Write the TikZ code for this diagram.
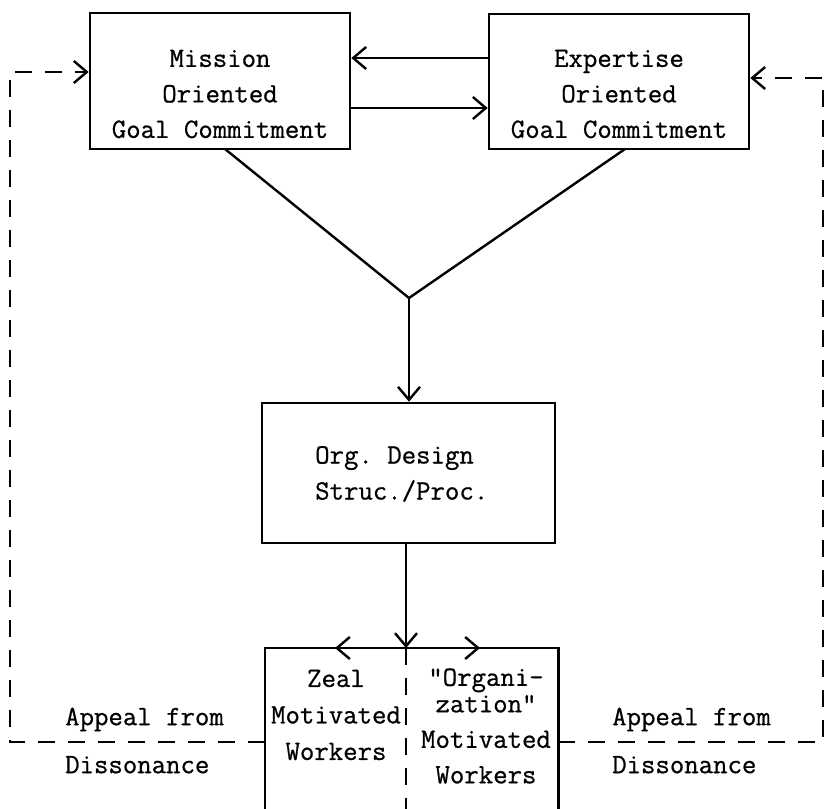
\documentclass[tikz,border=0pt]{standalone}
\usepackage{fontspec}
\setmonofont{Latin Modern Mono}[FakeBold=0.7]
\usetikzlibrary{arrows.meta}
\begin{document}
\begin{tikzpicture}[x=1pt,y=-1pt,
  box/.style={draw,line width=2.6pt,inner sep=0pt},
  txt/.style={font=\fontsize{28}{35.5}\selectfont\ttfamily,inner sep=0pt,align=center},
  conn/.style={line width=2.4pt},
  tip/.style={-{Straight Barb[length=13pt,width=22pt,line width=2.4pt]}},
  arr/.style={conn,tip},
  dsh/.style={line width=2.6pt,dash pattern=on 17pt off 13pt},
]
\useasboundingbox (0,0) rectangle (826,808);
\fill[white] (0,0) rectangle (826,808);

% boxes
\node[box,minimum width=260pt,minimum height=136pt] (mission) at (220,81) {};
\node[txt] (missiontxt) at (220,94) {Mission\\Oriented\\Goal Commitment};
\node[box,minimum width=260pt,minimum height=135pt] (expertise) at (619,81.5) {};
\node[txt] (expertisetxt) at (619,94) {Expertise\\Oriented\\Goal Commitment};

\node[box,minimum width=293pt,minimum height=140pt] (org) at (408.5,473) {};
\node[txt,align=left,anchor=west,font=\fontsize{28}{36}\selectfont\ttfamily] (orgtxt) at (315,474) {Org. Design\\Struc./Proc.};

\node[minimum width=293pt,minimum height=164pt,inner sep=0pt] (workers) at (411.5,730) {};
\draw[line width=2.6pt] (workers.south west) -- (workers.north west) -- (workers.north east) -- (workers.south east);
\coordinate (wmid) at (406,648);
\coordinate (wmidb) at (406,812);
\draw[dsh] (wmid) -- (wmidb);

\node[txt,font=\fontsize{28}{36.5}\selectfont\ttfamily] (zealtxt) at (336,715) {Zeal\\Motivated\\Workers};
\node[txt] (orgwtxt) at (486,726) {"Organi-\\[-9pt]zation"\\Motivated\\Workers};

\node[txt,align=left,anchor=west] (appl) at (65,740.5) {Appeal from\\[12.5pt]Dissonance};
\node[txt,align=left,anchor=west] (appr) at (612,740.5) {Appeal from\\[12.5pt]Dissonance};

% connectors between top boxes
\coordinate (t1) at (0,58);
\coordinate (t2) at (0,108);
\draw[arr] (expertise.west |- t1) -- (mission.east |- t1);
\draw[arr] (mission.east |- t2) -- (expertise.west |- t2);

% Y junction
\coordinate (mfoot) at (225,149);
\coordinate (efoot) at (625,149);
\coordinate (join) at (409,298);
\draw[conn] (mfoot) -- (join) -- (efoot);
\draw[arr] (join) -- (join |- org.north);

% org to workers
\draw[arr] (org.south -| wmid) -- (wmid);
\coordinate (lt) at (335,648);
\coordinate (rt) at (480,648);
\draw[arr] (wmid) -- (lt);
\draw[arr] (wmid) -- (rt);

% feedback loops
\coordinate (lb) at (10,742);
\coordinate (lt2) at (10,72);
\coordinate (rb) at (823,742);
\coordinate (rt2) at (823,78);
\draw[dsh,tip] (workers.west |- lb) -- (lb) -- (lt2) -- (mission.west |- lt2);
\draw[dsh,tip] (workers.east |- rb) -- (rb) -- (rt2) -- (expertise.east |- rt2);
\end{tikzpicture}
\end{document}
